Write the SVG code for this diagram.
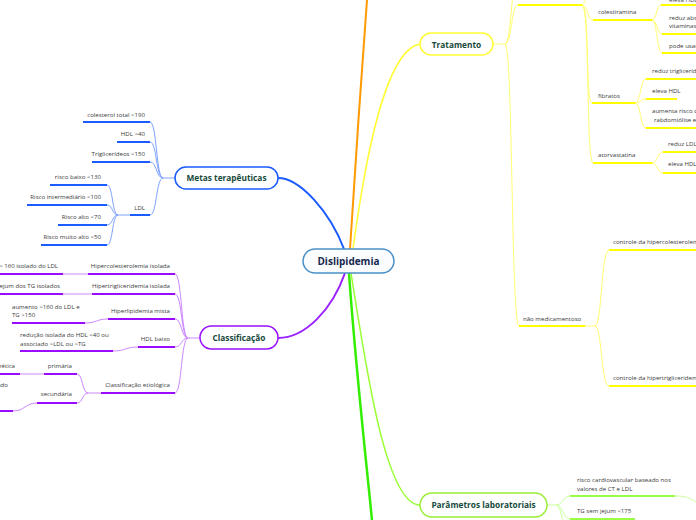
<svg xmlns="http://www.w3.org/2000/svg" width="696" height="520" viewBox="0 0 696 520">
<style>
text{font-family:"Open Sans","Liberation Sans",sans-serif;}
.t{font-size:6.1px;fill:#3a3a3a;}
.te{text-anchor:end;}
.h{font-size:8.3px;font-weight:bold;fill:#174a3b;text-anchor:middle;}
.n{fill:#ffffff;stroke-width:1.5;}
.ub{stroke:#1a5cff;stroke-width:2;fill:none}
.cb{stroke:#7da2ff;stroke-width:1;fill:none}
.up{stroke:#9a0cff;stroke-width:2;fill:none}
.cp{stroke:#cc88ff;stroke-width:1;fill:none}
.uy{stroke:#ffff00;stroke-width:2;fill:none}
.cy{stroke:#ffff70;stroke-width:1;fill:none}
.ug{stroke:#99ff44;stroke-width:2;fill:none}
.cg{stroke:#c8ff99;stroke-width:1;fill:none}
</style>
<rect width="696" height="520" fill="#ffffff"/>
<g id="connectors">
  <path d="M278,178 C300,178 330,212 344,249" fill="none" stroke="#1a5cff" stroke-width="2"/>
  <path d="M350,249 C355,170 361,80 367,0" fill="none" stroke="#ff9900" stroke-width="2"/>
  <path d="M353,249 C365,160 385,50 420,44" fill="none" stroke="#ffff33" stroke-width="1.5"/>
  <path d="M345,273 C332,310 305,338 278,338" fill="none" stroke="#9922ff" stroke-width="2"/>
  <path d="M349,273 C355,360 365,450 372,520" fill="none" stroke="#33ee00" stroke-width="2.5"/>
  <path d="M351,273 C365,360 385,505 420,505" fill="none" stroke="#99ff33" stroke-width="1.5"/>
  <!-- metas -->
  <path class="cb" d="M175,178H163"/>
  <path class="cb" d="M163,178 C156,178 157,122 150,122"/>
  <path class="cb" d="M163,178 C156,178 157,142 150,142"/>
  <path class="cb" d="M163,178 C156,178 157,162 150,162"/>
  <path class="cb" d="M163,178 C156,178 157,215 150,215"/>
  <path class="cb" d="M130,215H118"/>
  <path class="cb" d="M118,215 C112,215 113,185 107,185"/>
  <path class="cb" d="M118,215 C112,215 113,205 107,205"/>
  <path class="cb" d="M118,215 C112,215 113,225 107,225"/>
  <path class="cb" d="M118,215 C112,215 113,245 107,245"/>
  <!-- classificacao -->
  <path class="cp" d="M200,338H188"/>
  <path class="cp" d="M188,338 C181,338 182,274 175,274"/>
  <path class="cp" d="M188,338 C181,338 182,294 175,294"/>
  <path class="cp" d="M188,338 C181,338 182,319 175,319"/>
  <path class="cp" d="M188,338 C181,338 182,347 175,347"/>
  <path class="cp" d="M188,338 C181,338 182,393 175,393"/>
  <path class="cp" d="M88,274H63"/>
  <path class="cp" d="M92,294H63"/>
  <path class="cp" d="M108,319 C96,319 97,323 85,323"/>
  <path class="cp" d="M138,347 C125,347 126,351 113,351"/>
  <path class="cp" d="M101,393H88"/>
  <path class="cp" d="M88,393 C82,393 83,374 77,374"/>
  <path class="cp" d="M88,393 C82,393 83,403 77,403"/>
  <path class="cp" d="M44,374H20"/>
  <path class="cp" d="M37,403 C25,403 25,411 13,411"/>
  <!-- tratamento -->
  <path class="cy" d="M493,44H505"/>
  <path class="cy" d="M505,44 C512,44 511,5 518,5"/>
  <path class="cy" d="M505,44 C512,44 512,-40 520,-40"/>
  <path class="cy" d="M505,44 C513,44 511,326 519,326"/>
  <path class="cy" d="M582,5 C588,5 587,-30 593,-30"/>
  <path class="cy" d="M582,5 C588,5 587,20 593,20"/>
  <path class="cy" d="M582,5 C590,5 585,103 592,103"/>
  <path class="cy" d="M582,5 C590,5 586,163 593,163"/>
  <path class="cy" d="M652,20 C657,20 656,5 661,5"/>
  <path class="cy" d="M652,20 C657,20 657,34 662,34"/>
  <path class="cy" d="M652,20 C657,20 657,53 662,53"/>
  <path class="cy" d="M635,103 C641,103 640,79 646,79"/>
  <path class="cy" d="M635,103 C641,103 640,99 646,99"/>
  <path class="cy" d="M635,103 C641,103 640,128 646,128"/>
  <path class="cy" d="M652,163 C657,163 658,152 663,152"/>
  <path class="cy" d="M652,163 C657,163 658,173 663,173"/>
  <path class="cy" d="M585,326H595"/>
  <path class="cy" d="M595,326 C602,326 601,250 609,250"/>
  <path class="cy" d="M595,326 C602,326 601,386 609,386"/>
  <!-- parametros -->
  <path class="cg" d="M547,505H556"/>
  <path class="cg" d="M556,505 C563,505 563,496 570,496"/>
  <path class="cg" d="M556,505 C563,505 563,519 570,519"/>
  <path class="cg" d="M556,505 C563,505 563,540 570,540"/>
  <path class="cg" d="M675,496 C685,496 690,497 700,505"/>
</g>

<g id="dislipidemia">
  <rect x="303" y="249" width="91" height="24" rx="12" fill="#fafcfe" stroke="#4a90c8" stroke-width="1.5"/>
  <text x="348.5" y="264.5" font-size="10" font-weight="bold" fill="#16284d" text-anchor="middle">Dislipidemia</text>
</g>

<g id="metas">
  <rect class="n" x="175" y="167" width="103" height="22" rx="11" stroke="#1a5cff"/>
  <text class="h" x="226.5" y="181">Metas terapêuticas</text>
</g>
<g id="metas-ct"><path class="ub" d="M83,122H150"/><text class="t te" x="145" y="117">colesterol total &lt;190</text></g>
<g id="metas-hdl"><path class="ub" d="M117,142H150"/><text class="t te" x="145" y="136">HDL &gt;40</text></g>
<g id="metas-tg"><path class="ub" d="M92,162H150"/><text class="t te" x="145" y="156">Triglicerídeos &lt;150</text></g>
<g id="metas-ldl"><path class="ub" d="M130,215H150"/><text class="t te" x="145" y="210">LDL</text></g>
<g id="ldl-baixo"><path class="ub" d="M50,185H107"/><text class="t te" x="101" y="179">risco baixo &lt;130</text></g>
<g id="ldl-inter"><path class="ub" d="M27,205H107"/><text class="t te" x="101" y="199">Risco intermediário &lt;100</text></g>
<g id="ldl-alto"><path class="ub" d="M58,225H107"/><text class="t te" x="101" y="219">Risco alto &lt;70</text></g>
<g id="ldl-muitoalto"><path class="ub" d="M41,245H107"/><text class="t te" x="101" y="239">Risco muito alto &lt;50</text></g>

<g id="classificacao">
  <rect class="n" x="200" y="326" width="78" height="23" rx="11.5" stroke="#9911ff"/>
  <text class="h" x="239" y="340.5">Classificação</text>
</g>
<g id="cl-hipercol"><path class="up" d="M88,274H175"/><text class="t te" x="170" y="268">Hipercolesterolemia isolada</text></g>
<g id="cl-hipercol-d"><path class="up" d="M0,274H63"/><text class="t te" x="58" y="268">&gt; 160 isolado do LDL</text></g>
<g id="cl-hipertg"><path class="up" d="M92,294H175"/><text class="t te" x="170" y="288">Hipertrigliceridemia isolada</text></g>
<g id="cl-hipertg-d"><path class="up" d="M0,294H63"/><text class="t te" x="60" y="288">jejum dos TG isolados</text></g>
<g id="cl-mista"><path class="up" d="M108,319H175"/><text class="t te" x="170" y="313">Hiperlipidemia mista</text></g>
<g id="cl-mista-d"><path class="up" d="M12,323H85"/><text class="t" x="12" y="309">aumento &gt;160 do LDL e</text><text class="t" x="12" y="317">TG &gt;150</text></g>
<g id="cl-hdl"><path class="up" d="M138,347H175"/><text class="t te" x="170" y="341">HDL baixo</text></g>
<g id="cl-hdl-d"><path class="up" d="M20,351H113"/><text class="t" x="20" y="337">redução isolada do HDL &lt;40 ou</text><text class="t" x="20" y="346">associado &gt;LDL ou &gt;TG</text></g>
<g id="cl-etio"><path class="up" d="M101,393H175"/><text class="t te" x="170" y="387">Classificação etiológica</text></g>
<g id="cl-primaria"><path class="up" d="M44,374H77"/><text class="t te" x="72" y="368">primária</text></g>
<g id="cl-primaria-d"><path class="up" d="M0,374H20"/><text class="t te" x="15" y="368">genética</text></g>
<g id="cl-secundaria"><path class="up" d="M37,403H77"/><text class="t te" x="72" y="396">secundária</text></g>
<g id="cl-secundaria-d"><path class="up" d="M0,411H13"/><text class="t te" x="8" y="387">ado</text></g>

<g id="tratamento">
  <rect class="n" x="420" y="33" width="73" height="22" rx="11" stroke="#ffff33"/>
  <text class="h" x="456.5" y="47.5">Tratamento</text>
</g>
<g id="tr-med"><path class="uy" d="M518,5H582"/></g>
<g id="tr-colestiramina"><path class="uy" d="M593,20H652"/><text class="t" x="598" y="14">colestiramina</text></g>
<g id="col-1"><path class="uy" d="M661,5H696"/><text class="t" x="669" y="1.5">eleva HDL</text></g>
<g id="col-2"><path class="uy" d="M662,34H696"/><text class="t" x="669" y="19.5">reduz absorção de</text><text class="t" x="669" y="27.5">vitaminas lipossolúveis</text></g>
<g id="col-3"><path class="uy" d="M662,53H696"/><text class="t" x="669" y="48">pode usar</text></g>
<g id="tr-fibratos"><path class="uy" d="M592,103H635"/><text class="t" x="598" y="98">fibratos</text></g>
<g id="fib-1"><path class="uy" d="M646,79H696"/><text class="t" x="652" y="73">reduz triglicerídeos</text></g>
<g id="fib-2"><path class="uy" d="M646,99H677"/><text class="t" x="652" y="93">eleva HDL</text></g>
<g id="fib-3"><path class="uy" d="M646,128H696"/><text class="t" x="652" y="113">aumenta risco de</text><text class="t" x="654" y="122">rabdomiólise em</text></g>
<g id="tr-atorva"><path class="uy" d="M593,163H652"/><text class="t" x="598" y="157">atorvastatina</text></g>
<g id="ator-1"><path class="uy" d="M663,152H696"/><text class="t" x="668" y="146">reduz LDL</text></g>
<g id="ator-2"><path class="uy" d="M663,173H696"/><text class="t" x="668" y="166">eleva HDL</text></g>
<g id="tr-naomed"><path class="uy" d="M519,326H585"/><text class="t" x="523" y="321">não medicamentoso</text></g>
<g id="nm-1"><path class="uy" d="M609,250H696"/><text class="t" x="613" y="244">controle da hipercolesterolemia</text></g>
<g id="nm-2"><path class="uy" d="M609,386H696"/><text class="t" x="613" y="380">controle da hipertrigliceridemia</text></g>

<g id="parametros">
  <rect class="n" x="420" y="493" width="127" height="24" rx="12" stroke="#99ee33"/>
  <text class="h" x="483.5" y="508">Parâmetros laboratoriais</text>
</g>
<g id="par-1"><path class="ug" d="M570,496H675"/><text class="t" x="577" y="482">risco cardiovascular baseado nos</text><text class="t" x="577" y="491">valores de CT e LDL</text></g>
<g id="par-2"><path class="ug" d="M570,519H635"/><text class="t" x="577" y="513">TG sem jejum &lt;175</text></g>
</svg>
